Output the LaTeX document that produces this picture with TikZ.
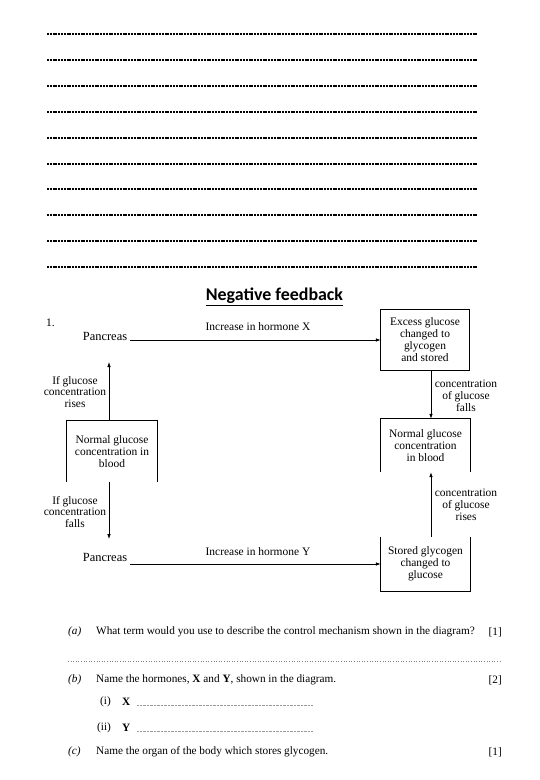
\documentclass[tikz,border=0pt]{standalone}
\usepackage{fontspec}
\setmainfont{Liberation Serif}
\newfontfamily\titlefont{Carlito}
\usetikzlibrary{arrows.meta}
\begin{document}
\begin{tikzpicture}[x=1bp,y=-1bp,
  txt/.style={font=\fontsize{11.5}{12}\selectfont, inner sep=0pt, align=center},
  qtxt/.style={font=\fontsize{11.3}{13}\selectfont, inner sep=0pt, anchor=west},
  arr/.style={line width=0.8bp, -{Latex[length=5bp,width=3.6bp]}},
  edge/.style={line width=0.8bp},
  writeline/.style={line width=2bp, dash pattern=on 2bp off 0.8bp},
  faintdots/.style={line width=0.6bp, gray, dash pattern=on 1bp off 1.6bp},
  finedots/.style={line width=0.5bp, gray!80, dash pattern=on 0.7bp off 0.7bp}
]
\useasboundingbox (0,0) rectangle (540,780);
\fill[white] (0,0) rectangle (540,780);

% answer lines at the top
\foreach \yy in {34,60,86,112,138,164,189,215,241,267}{
  \draw[writeline] (47,\yy) -- (477,\yy);
}

% title
\node[inner sep=0pt, font=\titlefont\bfseries\fontsize{18}{20}\selectfont] (title) at (274.5,297) {\underline{Negative feedback}};

\node[txt, anchor=west] (num) at (46,323) {1.};

% boxes
\node[txt, minimum width=88bp, minimum height=60bp] (b1) at (425,340) {Excess glucose\\changed to\\glycogen\\and stored};
\draw[edge] (b1.north west) rectangle (b1.south east);

\node[txt, minimum width=89bp, minimum height=53bp] (b2) at (425.5,445.5) {Normal glucose\\concentration\\in blood};
\draw[edge] (b2.south west) -- (b2.north west) -- (b2.north east) -- (b2.south east);

\node[txt, minimum width=89bp, minimum height=54bp] (b3) at (425.5,564) {Stored glycogen\\changed to\\glucose};
\draw[edge] (b3.north west) -- (b3.south west) -- (b3.south east) -- (b3.north east);

\node[txt, minimum width=90bp, minimum height=61bp] (lb) at (112,451.5) {Normal glucose\\concentration in\\blood};
\draw[edge] (lb.south west) -- (lb.north west) -- (lb.north east) -- (lb.south east);

% pancreas nodes
\node[txt, inner xsep=3bp, font=\fontsize{12.5}{13}\selectfont] (p1) at (105,336) {Pancreas};
\node[txt, inner xsep=3bp, font=\fontsize{12.5}{13}\selectfont] (p2) at (105,557) {Pancreas};

% horizontal connectors
\draw[arr] (p1.east |- b1.west) -- (b1.west);
\node[txt] (lx) at (258,327) {Increase in hormone X};
\draw[arr] (p2.east |- b3.west) -- (b3.west);
\node[txt] (ly) at (258,552) {Increase in hormone Y};

% right vertical connectors
\coordinate (rx) at (431,0);
\draw[arr] (b1.south -| rx) -- (b2.north -| rx);
\node[txt] (lfalls) at (466,396) {concentration\\of glucose\\falls};
\draw[arr] (b3.north -| rx) -- (b2.south -| rx);
\node[txt] (lrises) at (466,505) {concentration\\of glucose\\rises};

% left vertical connectors
\coordinate (lxc) at (109,0);
\coordinate (uptip) at (109,362);
\coordinate (dntip) at (109,539);
\draw[arr] (lb.north -| lxc) -- (uptip);
\node[txt] (lrise) at (75,392) {If glucose\\concentration\\rises};
\draw[arr] (lb.south -| lxc) -- (dntip);
\node[txt] (lfall) at (75,512) {If glucose\\concentration\\falls};

% questions
\node[qtxt] (qa) at (68,632) {\itshape (a)};
\node[qtxt] (qat) at (96,632) {What term would you use to describe the control mechanism shown in the diagram?};
\node[qtxt, anchor=east] (qam) at (502,632) {[1]};
\draw[faintdots] (68,661) -- (502,661);

\node[qtxt] (qb) at (68,680) {\itshape (b)};
\node[qtxt] (qbt) at (96,680) {Name the hormones, \textbf{X} and \textbf{Y}, shown in the diagram.};
\node[qtxt, anchor=east] (qbm) at (502,680) {[2]};

\node[qtxt] (qi) at (100,702) {(i)};
\node[qtxt] (qix) at (122,702) {\textbf{X}};
\draw[finedots] (137,705) -- (313,705);

\node[qtxt] (qii) at (97,728) {(ii)};
\node[qtxt] (qiiy) at (122,728) {\textbf{Y}};
\draw[finedots] (137,731) -- (313,731);

\node[qtxt] (qc) at (68,752) {\itshape (c)};
\node[qtxt] (qct) at (96,752) {Name the organ of the body which stores glycogen.};
\node[qtxt, anchor=east] (qcm) at (502,752) {[1]};
\end{tikzpicture}
\end{document}
